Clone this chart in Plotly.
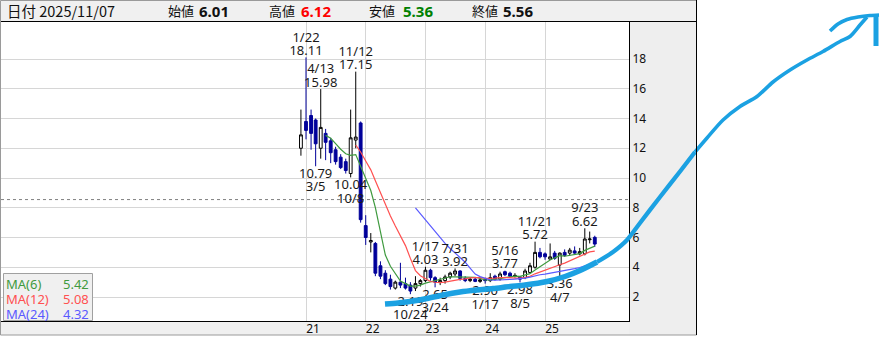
import pandas as pd
import plotly.graph_objects as go

# ---------------- data (monthly candles) ----------------
start_month = "2020-12-01"
opens = [
    12.0,
    13.8, 14.2, 13.9, 12.0, 13.0, 12.5, 11.9, 11.4, 11.1, 10.3, 12.55, 13.7,
    6.8, 5.7, 5.6, 4.1, 3.6, 3.2, 2.6, 3.0, 2.9, 2.8, 2.6, 2.9,
    3.1, 3.8, 3.3, 3.0, 3.1, 3.35, 3.55, 3.75, 3.25, 3.1, 3.2, 3.05,
    3.2, 3.1, 3.4, 3.2, 3.7, 3.6, 3.4, 3.35, 3.3, 3.65, 4.0, 5.0,
    4.9, 4.55, 4.95, 4.15, 5.0, 4.95, 5.1, 4.9, 4.9, 5.85, 6.01,
]
highs = [
    14.6,
    18.11, 14.6, 14.0, 15.98, 13.3, 12.7, 12.1, 11.6, 11.3, 14.6, 17.15, 13.8,
    7.5, 6.3, 5.7, 4.4, 3.8, 3.5, 3.1, 4.3, 3.3, 3.0, 3.4, 3.2,
    4.03, 3.9, 3.4, 3.3, 3.5, 3.7, 3.92, 3.8, 3.4, 3.3, 3.3, 3.3,
    3.3, 3.6, 3.5, 3.7, 3.77, 3.7, 3.6, 3.4, 3.9, 4.3, 5.72, 5.3,
    5.0, 5.6, 5.1, 5.0, 5.2, 5.3, 5.4, 5.3, 6.62, 6.4, 6.12,
]
lows = [
    11.5,
    12.6, 11.9, 10.79, 11.3, 11.2, 11.0, 10.9, 10.6, 10.3, 10.04, 12.0, 7.0,
    5.5, 5.0, 3.4, 3.2, 2.8, 2.5, 2.5, 2.6, 2.5, 2.19, 2.4, 2.7,
    3.0, 3.1, 2.65, 2.8, 2.9, 3.2, 3.4, 3.1, 3.0, 3.0, 3.0, 2.95,
    2.90, 3.0, 3.1, 3.1, 3.4, 3.3, 3.3, 2.98, 3.2, 3.6, 3.9, 4.6,
    4.5, 4.5, 4.5, 3.36, 4.7, 4.8, 4.9, 4.8, 4.8, 5.6, 5.36,
]
closes = [
    12.9,
    13.2, 13.0, 12.3, 13.4, 12.4, 11.7, 11.1, 10.7, 10.5, 12.7, 12.75, 7.2,
    6.0, 5.8, 3.6, 3.4, 2.9, 2.7, 3.0, 2.8, 2.6, 2.4, 2.9, 3.1,
    3.8, 3.3, 3.0, 3.1, 3.35, 3.6, 3.75, 3.25, 3.1, 3.2, 3.05, 3.15,
    3.1, 3.3, 3.2, 3.55, 3.5, 3.4, 3.45, 3.2, 3.75, 4.1, 5.0, 4.7,
    4.7, 4.7, 4.6, 4.95, 4.8, 5.15, 4.95, 5.05, 5.9, 5.9, 5.56,
]

ma_periods = [6, 12, 24]
ma_colors = ["#3f9a3f", "#ff5050", "#5a5aff"]

high_label_months = ["2021-01", "2021-04", "2021-11", "2023-01", "2023-07", "2024-05", "2024-11", "2025-09"]
high_label_dates = ["1/22", "4/13", "11/12", "1/17", "7/31", "5/16", "11/21", "9/23"]
low_label_months = ["2021-03", "2021-10", "2022-10", "2023-03", "2024-01", "2024-08", "2025-04"]
low_label_dates = ["3/5", "10/8", "10/24", "3/24", "1/17", "8/5", "4/7"]

year_ticks = ["2021-01-01", "2022-01-01", "2023-01-01", "2024-01-01", "2025-01-01"]
year_labels = ["21", "22", "23", "24", "25"]
price_ticks = [2, 4, 6, 8, 10, 12, 14, 16, 18]
ref_price = 8.55

last_date = "2025/11/07"
header_names = ["始値", "高値", "安値", "終値"]

# freehand arrow overlay (pixel coords of the drawn stroke)
arrow_strokes = [
    ([385, 398, 410, 427, 443, 460, 477, 493, 510, 525, 547, 565, 580, 597],
     [304, 303, 301.5, 298.5, 295, 292, 290, 288.5, 286.5, 285, 281.5, 276.5, 270.5, 262], 5.5),
    ([597, 613, 627, 640, 660, 680, 695],
     [262, 252, 240, 223, 197, 171.5, 152], 4.3),
    ([695, 707, 723, 740, 757, 773, 790, 807, 823, 840, 850, 860, 867],
     [152, 138, 120, 106.5, 96.5, 82, 70, 60, 51.5, 41.5, 36.5, 25, 17], 3.6),
    ([830, 838, 847, 858, 870, 879], [31, 24, 19.5, 17, 15.5, 15], 3.6),
    ([876, 876], [14, 46], 5),
]

# ---------------- layout constants ----------------
W, H = 883, 340
PL, PR, PT, PB = 1, 629, 22, 321
ANCHOR_PX = 306
PX_PER_DAY = 4.98 * 12 / 365.25
Y2_PX, Y18_PX = 297, 59
PPU = (Y2_PX - Y18_PX) / 16.0
y_lo = 2 - (PB - Y2_PX) / PPU
y_hi = 18 + (Y18_PX - PT) / PPU
anchor = pd.Timestamp(year_ticks[0])
x_lo = anchor - pd.Timedelta(days=(ANCHOR_PX - PL) / PX_PER_DAY)
x_hi = anchor + pd.Timedelta(days=(PR - ANCHOR_PX) / PX_PER_DAY)

FONT = "Noto Sans, Noto Sans CJK JP, sans-serif"
JFONT = "Noto Sans CJK JP, Noto Sans, sans-serif"
BLUE_DOWN = "#00009a"
ARROW = "#1ba1e2"


def px(x):
    return x / W


def py(y):
    return 1 - y / H


months = pd.date_range(start_month, periods=len(closes), freq="MS")
close_s = pd.Series(closes, index=months)
mas = [close_s.rolling(p).mean() for p in ma_periods]

fig = go.Figure()
fig.add_trace(go.Candlestick(
    x=months, open=opens, high=highs, low=lows, close=closes,
    increasing=dict(line=dict(color="#000000", width=1), fillcolor="#ffffff"),
    decreasing=dict(line=dict(color=BLUE_DOWN, width=1), fillcolor=BLUE_DOWN),
    whiskerwidth=0, hoverinfo="skip", showlegend=False,
))
for ma, col in zip(mas, ma_colors):
    fig.add_trace(go.Scatter(x=ma.index, y=ma.values, mode="lines",
                             line=dict(color=col, width=1.2), hoverinfo="skip", showlegend=False))

# extreme labels (text traces so the freehand stroke can sit above them)
NEAR, FAR, FIX = 7.0, 20.5, 1.4
lab_font = dict(family=FONT, size=13, color="#1a1a1a")
idx_of = {m.strftime("%Y-%m"): i for i, m in enumerate(months)}
hx, hy_v, hy_d, hv = [], [], [], []
for m in high_label_months:
    i = idx_of[m]
    hx.append(months[i])
    hv.append(f"{highs[i]:.2f}")
    hy_v.append(highs[i] + (NEAR - FIX) / PPU)
    hy_d.append(highs[i] + (FAR - FIX) / PPU)
lx, ly_v, ly_d, lv = [], [], [], []
for m in low_label_months:
    i = idx_of[m]
    lx.append(months[i])
    lv.append(f"{lows[i]:.2f}")
    ly_v.append(lows[i] - (NEAR + FIX) / PPU)
    ly_d.append(lows[i] - (FAR + FIX) / PPU)
for xs, ys, ts in [(hx, hy_v, hv), (hx, hy_d, high_label_dates), (lx, ly_v, lv), (lx, ly_d, low_label_dates)]:
    fig.add_trace(go.Scatter(x=xs, y=ys, text=ts, mode="text", textposition="middle center",
                             textfont=lab_font, hoverinfo="skip", showlegend=False, cliponaxis=False))

# freehand arrow on a full-figure overlay axis
for xs, ys, wdt in arrow_strokes:
    fig.add_trace(go.Scatter(x=xs, y=ys, mode="lines", xaxis="x2", yaxis="y2",
                             line=dict(color=ARROW, width=wdt, shape="spline", smoothing=0.8),
                             hoverinfo="skip", showlegend=False))

shapes = [
    dict(type="rect", xref="paper", yref="paper", x0=px(0), x1=px(697), y0=py(21), y1=py(0),
         fillcolor="#f0f0f0", line=dict(width=0), layer="below"),
    dict(type="rect", xref="paper", yref="paper", x0=px(629), x1=px(697), y0=py(335), y1=py(21),
         fillcolor="#eeeeee", line=dict(width=0), layer="below"),
    dict(type="rect", xref="paper", yref="paper", x0=px(0), x1=px(629), y0=py(335), y1=py(321),
         fillcolor="#f0f0f0", line=dict(width=0), layer="below"),
    dict(type="line", xref="paper", yref="y", x0=px(PL), x1=px(PR), y0=ref_price, y1=ref_price,
         line=dict(color="#808080", width=1, dash="dot"), layer="below"),
    dict(type="line", xref="paper", yref="paper", x0=px(0), x1=px(697), y0=py(21.5), y1=py(21.5),
         line=dict(color="#000000", width=1)),
    dict(type="rect", xref="paper", yref="paper", x0=px(0.5), x1=px(696.5), y0=py(335), y1=py(0.5),
         line=dict(color="#9a9a9a", width=1)),
    dict(type="line", xref="paper", yref="paper", x0=px(696.5), x1=px(696.5), y0=py(335), y1=py(0),
         line=dict(color="#000000", width=1)),
    dict(type="rect", xref="paper", yref="paper", x0=px(3.5), x1=px(92.5), y0=py(320.5), y1=py(273.5),
         fillcolor="#f0f0f0", line=dict(color="#a0a0a0", width=1), layer="above"),
]

ann = []
# header
ann.append(dict(x=px(5), y=py(11), xref="paper", yref="paper", xanchor="left", yanchor="middle",
                text="日付 " + last_date, showarrow=False, font=dict(family=JFONT, size=14.5, color="#111")))
hdr_vals = [opens[-1], highs[-1], lows[-1], closes[-1]]
hdr_cols = ["#111111", "#ff0000", "#008000", "#111111"]
hdr_name_x = [166, 267, 367, 470]
hdr_val_x = [197, 299, 401, 501]
for nm, v, c, nx, vx in zip(header_names, hdr_vals, hdr_cols, hdr_name_x, hdr_val_x):
    ann.append(dict(x=px(nx), y=py(11), xref="paper", yref="paper", xanchor="left", yanchor="middle",
                    text=nm, showarrow=False, font=dict(family=JFONT, size=13, color="#111")))
    ann.append(dict(x=px(vx), y=py(11), xref="paper", yref="paper", xanchor="left", yanchor="middle",
                    text=f"<b>{v:.2f}</b>", showarrow=False, font=dict(family=FONT, size=15, color=c)))
# MA legend
leg_y = [283.5, 298.5, 313.5]
for p, ma, col, yy in zip(ma_periods, mas, ma_colors, leg_y):
    ann.append(dict(x=px(4), y=py(yy), xref="paper", yref="paper", xanchor="left", yanchor="middle",
                    text=f"MA({p})", showarrow=False, font=dict(family=FONT, size=13, color=col)))
    ann.append(dict(x=px(91), y=py(yy), xref="paper", yref="paper", xanchor="right", yanchor="middle",
                    text=f"{ma.iloc[-1]:.2f}", showarrow=False, font=dict(family=FONT, size=13, color=col)))

fig.update_layout(
    width=W, height=H, margin=dict(l=0, r=0, t=0, b=0),
    paper_bgcolor="#ffffff", plot_bgcolor="rgba(0,0,0,0)",
    showlegend=False, hovermode=False, boxgap=0.12,
    shapes=shapes, annotations=ann,
    xaxis=dict(domain=[px(PL), px(PR)], type="date", range=[x_lo, x_hi],
               tickvals=year_ticks, ticktext=year_labels, ticks="",
               showgrid=True, gridcolor="#d6d6d6", gridwidth=1, zeroline=False,
               showline=True, linecolor="#000000", linewidth=1,
               tickfont=dict(family=FONT, size=12, color="#111"),
               ticklabelshift=7, ticklabelstandoff=-3,
               rangeslider=dict(visible=False), fixedrange=True, anchor="y"),
    yaxis=dict(domain=[py(PB), py(PT)], range=[y_lo, y_hi], side="right",
               tickvals=price_ticks, ticks="", showgrid=True, gridcolor="#d6d6d6", gridwidth=1,
               zeroline=False, showline=True, linecolor="#000000", linewidth=1,
               tickfont=dict(family=FONT, size=12, color="#111"), fixedrange=True, anchor="x"),
    xaxis2=dict(domain=[0, 1], range=[0, W], visible=False, fixedrange=True, anchor="y2"),
    yaxis2=dict(domain=[0, 1], range=[H, 0], visible=False, fixedrange=True, anchor="x2"),
)

fig.write_html("out.html")
